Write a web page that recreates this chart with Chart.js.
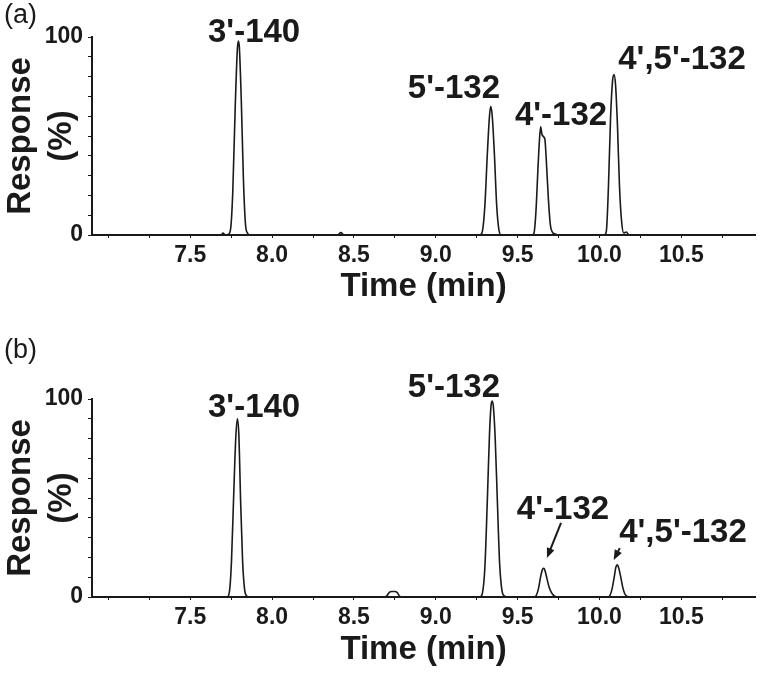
<!DOCTYPE html>
<html lang="en">

<head>
    <meta charset="UTF-8">
    <title>Chromatograms (a) and (b)</title>
    <script src="https://cdn.jsdelivr.net/npm/chart.js"></script>
    <style>
        body { margin: 0; background: #fff; }
        .painel { position: absolute; left: 0; }
    </style>
</head>

<body>
    <div class="painel" style="top:0px"><canvas id="graficoA" width="760" height="330"></canvas></div>
    <div class="painel" style="top:330px"><canvas id="graficoB" width="760" height="348"></canvas></div>

<script>
    // tick labels
    const marcasX = [7.5, 8.0, 8.5, 9.0, 9.5, 10.0, 10.5];
    const marcasY = [0, 100];
    const picos = ["3'-140", "5'-132", "4'-132", "4',5'-132"];

    // panel (a): time (min) / response (%)
    const tempoA = [6.9,
        7.69, 7.70, 7.715, 7.735, 7.748, 7.76, 7.775, 7.788, 7.794, 7.80, 7.812, 7.825, 7.838, 7.85, 7.865,
        8.40, 8.42, 8.44,
        9.27, 9.285, 9.30, 9.315, 9.328, 9.336, 9.345, 9.358, 9.372, 9.385, 9.40,
        9.59, 9.60, 9.612, 9.625, 9.635, 9.641, 9.648, 9.66, 9.667, 9.675, 9.688, 9.70, 9.712, 9.73, 9.75,
        10.03, 10.042, 10.055, 10.068, 10.08, 10.089, 10.098, 10.11, 10.122, 10.135, 10.148, 10.165, 10.18,
        10.95];
    const respA = [0,
        0, 1, 0, 0.5, 4, 22, 65, 94, 98, 95, 68, 28, 5, 1, 0,
        0, 1.2, 0,
        0, 2, 15, 41, 60, 65, 60, 41, 15, 3, 0,
        0, 1, 12, 35, 50, 54.7, 51, 49.5, 48, 38, 18, 5, 1.5, 0.5, 0,
        0, 2, 25, 60, 78, 81, 76, 55, 25, 7, 1, 1.5, 0,
        0];

    // panel (b)
    const tempoB = [6.9,
        7.725, 7.74, 7.752, 7.765, 7.778, 7.788, 7.797, 7.808, 7.82, 7.832, 7.845, 7.86,
        8.68, 8.70, 8.715, 8.73, 8.75, 8.765, 8.78, 8.80,
        9.27, 9.285, 9.30, 9.315, 9.328, 9.338, 9.345, 9.352, 9.363, 9.376, 9.39, 9.405, 9.42, 9.44,
        9.60, 9.615, 9.628, 9.64, 9.652, 9.661, 9.67, 9.68, 9.692, 9.705, 9.72, 9.74,
        10.05, 10.065, 10.078, 10.09, 10.10, 10.109, 10.118, 10.13, 10.142, 10.155, 10.17, 10.19,
        10.95];
    const respB = [0,
        0, 3, 18, 50, 80, 90, 82, 48, 18, 4, 0.5, 0,
        0, 0.5, 2.2, 2.8, 2.8, 2.2, 0.3, 0,
        0, 2, 15, 49, 82, 97, 99, 96, 80, 49, 17, 3, 0.5, 0,
        0, 1, 4.5, 10, 14, 14.5, 12.5, 9, 5, 2.5, 0.8, 0,
        0, 1, 4.5, 10, 15, 16.2, 14.5, 10, 5, 1.5, 0.3, 0,
        0];

    const fonte = '"Liberation Sans", Arial, sans-serif';
    const tinta = '#1a1a1a';

    // peak names, panel letters and arrows
    const anotacoes = {
        id: 'anotacoes',
        afterDraw(chart, args, opts) {
            const c = chart.ctx;
            const sx = chart.scales.x, sy = chart.scales.y;
            c.save();
            c.fillStyle = tinta;
            c.strokeStyle = tinta;
            c.textBaseline = 'alphabetic';
            c.textAlign = 'left';
            c.font = '27px ' + fonte;
            c.fillText(opts.painel, 4, opts.painelY);

            c.textAlign = 'center';
            c.font = 'bold 33px ' + fonte;
            opts.rotulos.forEach(function (r, i) {
                c.fillText(picos[i], sx.getPixelForValue(r[0]), sy.getPixelForValue(r[1]));
            });

            (opts.setas || []).forEach(function (s) {
                const x1 = sx.getPixelForValue(s[0]), y1 = sy.getPixelForValue(s[1]);
                const x2 = sx.getPixelForValue(s[2]), y2 = sy.getPixelForValue(s[3]);
                const ang = Math.atan2(y2 - y1, x2 - x1);
                c.lineWidth = 2;
                c.beginPath();
                c.moveTo(x1, y1);
                c.lineTo(x2 - 6 * Math.cos(ang), y2 - 6 * Math.sin(ang));
                c.stroke();
                c.beginPath();
                c.moveTo(x2, y2);
                c.lineTo(x2 - 10 * Math.cos(ang) + 4 * Math.sin(ang), y2 - 10 * Math.sin(ang) - 4 * Math.cos(ang));
                c.lineTo(x2 - 10 * Math.cos(ang) - 4 * Math.sin(ang), y2 - 10 * Math.sin(ang) + 4 * Math.cos(ang));
                c.closePath();
                c.fill();
            });
            c.restore();
        }
    };

    function criarGrafico(id, tempos, respostas, topo, alturaEixoX, padTitulo, anot) {
        const dados = tempos.map(function (t, i) { return { x: t, y: respostas[i] }; });

        return new Chart(document.getElementById(id), {
            type: 'line',
            data: {
                datasets: [{
                    data: dados,
                    borderColor: tinta,
                    borderWidth: 1.6,
                    pointRadius: 0,
                    fill: false,
                    cubicInterpolationMode: 'monotone'
                }]
            },
            options: {
                responsive: false,
                animation: false,
                layout: { padding: { top: topo, right: 5, left: 0, bottom: 0 } },
                plugins: {
                    legend: { display: false },
                    tooltip: { enabled: false },
                    anotacoes: anot
                },
                scales: {
                    x: {
                        type: 'linear',
                        min: 6.9,
                        max: 10.95,
                        afterFit: function (s) { s.height = alturaEixoX; },
                        border: { display: true, color: tinta, width: 2 },
                        grid: { drawOnChartArea: false, drawTicks: true, tickLength: 3, color: tinta },
                        ticks: {
                            stepSize: 0.25,
                            includeBounds: false,
                            autoSkip: false,
                            maxRotation: 0,
                            padding: 4,
                            color: tinta,
                            font: { family: fonte, size: 23, weight: 'bold' },
                            callback: function (v) {
                                return marcasX.some(function (m) { return Math.abs(m - v) < 1e-6; }) ? v.toFixed(1) : '';
                            }
                        },
                        title: {
                            display: true,
                            text: 'Time (min)',
                            color: tinta,
                            font: { family: fonte, size: 33, weight: 'bold', lineHeight: 1.2 },
                            padding: { top: 0, bottom: padTitulo }
                        }
                    },
                    y: {
                        min: 0,
                        max: 100,
                        afterFit: function (s) { s.width = 92; },
                        border: { display: true, color: tinta, width: 2 },
                        grid: { drawOnChartArea: false, drawTicks: true, tickLength: 4, color: tinta },
                        ticks: {
                            stepSize: 10,
                            autoSkip: false,
                            padding: 5,
                            color: tinta,
                            font: { family: fonte, size: 23, weight: 'bold' },
                            callback: function (v) { return marcasY.includes(v) ? v : ''; }
                        },
                        title: {
                            display: true,
                            text: ['Response', '(%)'],
                            color: tinta,
                            font: { family: fonte, size: 33, weight: 'bold', lineHeight: 1.25 },
                            padding: 0
                        }
                    }
                }
            },
            plugins: [anotacoes]
        });
    }

    criarGrafico('graficoA', tempoA, respA, 37, 95, 23, {
        painel: '(a)', painelY: 23,
        rotulos: [[7.89, 97.5], [9.111, 69.2], [9.765, 55.6], [10.504, 83.8]]
    });

    criarGrafico('graficoB', tempoB, respB, 69, 81, 8, {
        painel: '(b)', painelY: 28,
        rotulos: [[7.89, 90.9], [9.111, 101.0], [9.777, 39.4], [10.51, 27.8]],
        setas: [[9.765, 37.4, 9.679, 19.7], [10.124, 24.7, 10.087, 18.7]]
    });
</script>
</body>

</html>
